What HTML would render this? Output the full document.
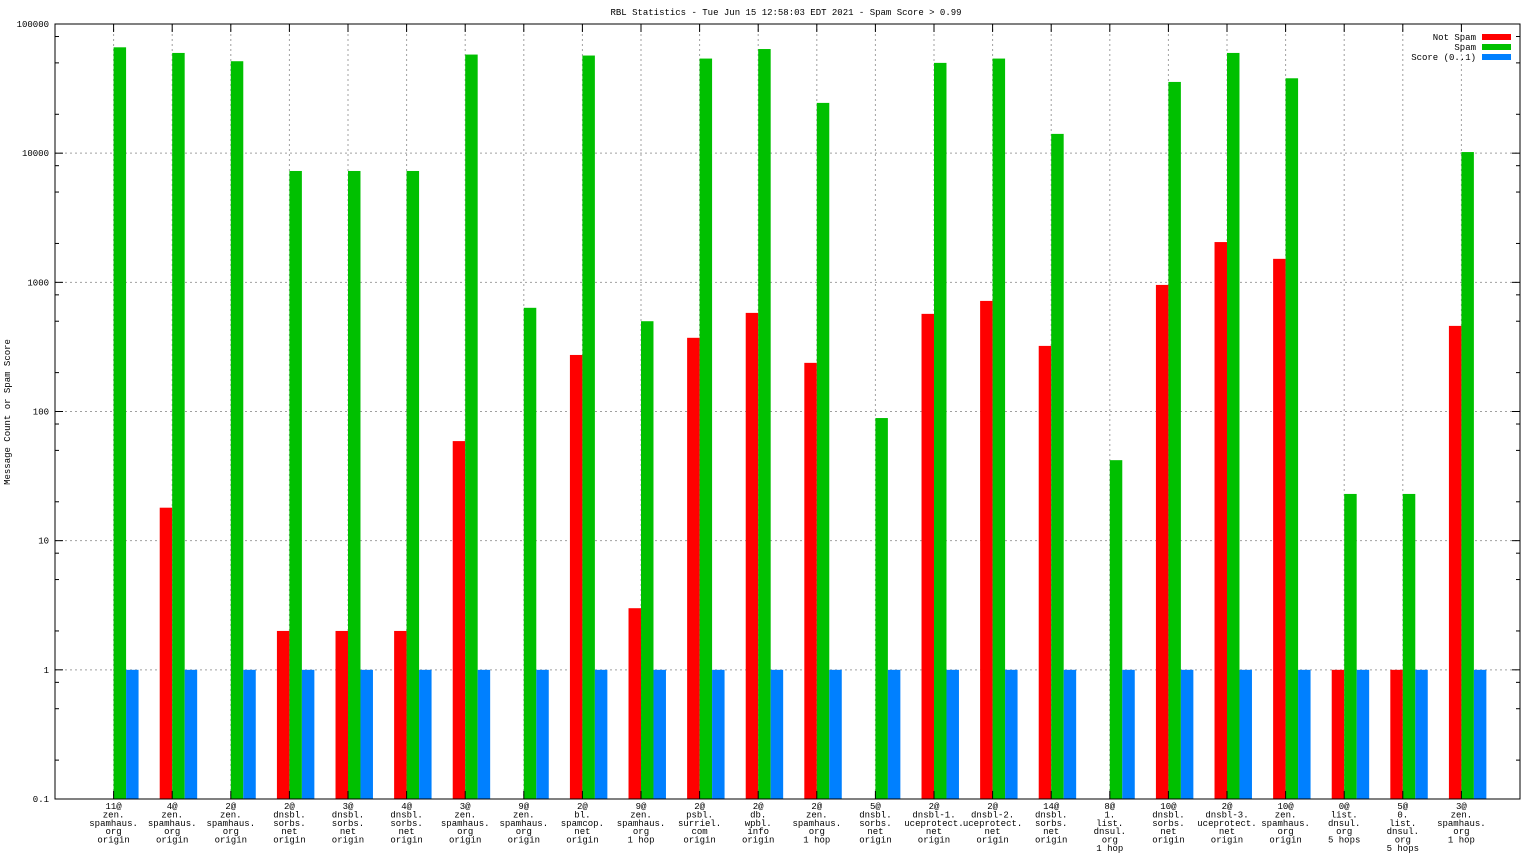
<!DOCTYPE html>
<html><head><meta charset="utf-8"><style>
html,body{margin:0;padding:0;background:#fff;width:1536px;height:864px;overflow:hidden}
svg{display:block}
text{font-family:"Liberation Mono","DejaVu Sans Mono",monospace;font-size:9px;fill:#000}
</style></head><body>
<svg id="chart" width="1536" height="864" xmlns="http://www.w3.org/2000/svg">
<text x="786" y="15" text-anchor="middle">RBL Statistics - Tue Jun 15 12:58:03 EDT 2021 - Spam Score &gt; 0.99</text>
<text transform="translate(10,412) rotate(-90)" text-anchor="middle">Message Count or Spam Score</text>
<g id="grid"></g><g id="bars"></g><g id="axes"></g>
</svg>
<script>
const categories = [
 ["11@","zen.","spamhaus.","org","origin"],["4@","zen.","spamhaus.","org","origin"],["2@","zen.","spamhaus.","org","origin"],
 ["2@","dnsbl.","sorbs.","net","origin"],["3@","dnsbl.","sorbs.","net","origin"],["4@","dnsbl.","sorbs.","net","origin"],
 ["3@","zen.","spamhaus.","org","origin"],["9@","zen.","spamhaus.","org","origin"],["2@","bl.","spamcop.","net","origin"],
 ["9@","zen.","spamhaus.","org","1 hop"],["2@","psbl.","surriel.","com","origin"],["2@","db.","wpbl.","info","origin"],
 ["2@","zen.","spamhaus.","org","1 hop"],["5@","dnsbl.","sorbs.","net","origin"],["2@","dnsbl-1.","uceprotect.","net","origin"],
 ["2@","dnsbl-2.","uceprotect.","net","origin"],["14@","dnsbl.","sorbs.","net","origin"],["8@","1.","list.","dnsul.","org","1 hop"],
 ["10@","dnsbl.","sorbs.","net","origin"],["2@","dnsbl-3.","uceprotect.","net","origin"],["10@","zen.","spamhaus.","org","origin"],
 ["0@","list.","dnsul.","org","5 hops"],["5@","0.","list.","dnsul.","org","5 hops"],["3@","zen.","spamhaus.","org","1 hop"]
];
const notSpam = [0,18,0,2,2,2,59,0,274,3,372,580,238,0,570,718,322,0,955,2050,1520,1,1,460];
const spam = [66000,59700,51500,7280,7280,7280,58000,635,57000,500,54000,64000,24500,89,50000,54000,14100,42,35600,59700,38000,23,23,10200];
const score = [1,1,1,1,1,1,1,1,1,1,1,1,1,1,1,1,1,1,1,1,1,1,1,1];
const yTicks = [0.1,1,10,100,1000,10000,100000];
const yTickLabels = ["0.1","1","10","100","1000","10000","100000"];
const series = [{name:"Not Spam",vals:notSpam,color:"#ff0000",off:-1},{name:"Spam",vals:spam,color:"#00c000",off:0},{name:"Score (0..1)",vals:score,color:"#0080ff",off:1}];

const NS="http://www.w3.org/2000/svg";
const L=55, R=1520, T=24, B=799;
const step=(R-L)/(categories.length+1);
const xs=i=>L+(i+1)*step;
const ys=v=>B-(Math.log10(v)-Math.log10(0.1))/6*(B-T);
const bw=step*0.213;
function mk(tag,attrs,parent){const e=document.createElementNS(NS,tag);for(const k in attrs)e.setAttribute(k,attrs[k]);parent.appendChild(e);return e;}
const grid=document.getElementById('grid'),bars=document.getElementById('bars'),axes=document.getElementById('axes');
yTicks.forEach((v,i)=>{
  const y=ys(v);
  if(i>0&&i<yTicks.length-1){const g=mk('line',{x1:L,x2:R,y1:y,y2:y,stroke:'#a0a0a0','stroke-dasharray':'2,3'},grid);
  
  }
  mk('line',{x1:L,x2:L+8,y1:y,y2:y,stroke:'#000'},axes);
  mk('line',{x1:R-8,x2:R,y1:y,y2:y,stroke:'#000'},axes);
  if(i<yTicks.length-1)[2,5,8].forEach(m=>{const yy=ys(v*m);mk('line',{x1:L,x2:L+4,y1:yy,y2:yy,stroke:'#000'},axes);mk('line',{x1:R-4,x2:R,y1:yy,y2:yy,stroke:'#000'},axes);});
  const t=mk('text',{x:L-6,y:y+3,'text-anchor':'end'},axes);t.textContent=yTickLabels[i];
  
  
});
categories.forEach((c,i)=>{
  const x=xs(i);
  const g=mk('line',{x1:x,x2:x,y1:T,y2:B,stroke:'#a0a0a0','stroke-dasharray':'2,3'},grid);
  
  
  mk('line',{x1:x,x2:x,y1:B-8,y2:B,stroke:'#000'},axes);
  mk('line',{x1:x,x2:x,y1:T,y2:T+8,stroke:'#000'},axes);
  const t=mk('text',{x:x,y:B+10,'text-anchor':'middle'},axes);
  
  
  c.forEach((ln,j)=>{const s=mk('tspan',{x:x,dy:j?8.4:0},t);s.textContent=ln;});
  series.forEach(s=>{
    const v=s.vals[i]; if(!(v>0.1))return;
    const y=ys(v);
    const r=mk('rect',{y:y,width:bw,height:B-y,fill:s.color},bars);
    r.setAttribute('x',s.off===-1?x-bw:(s.off===0?x:x+bw));
    
    
  });
});
const frame=mk('rect',{x:L,y:T,width:R-L,height:B-T,fill:'none',stroke:'#000'},axes);


series.forEach((s,i)=>{
  const y=37+i*10;
  const t=mk('text',{x:1476,y:y+3,'text-anchor':'end'},axes);t.textContent=s.name;
  
  
  const r=mk('rect',{x:1482,y:y-3,width:29,height:6,fill:s.color},axes);
  
  
});
</script>
</body></html>
